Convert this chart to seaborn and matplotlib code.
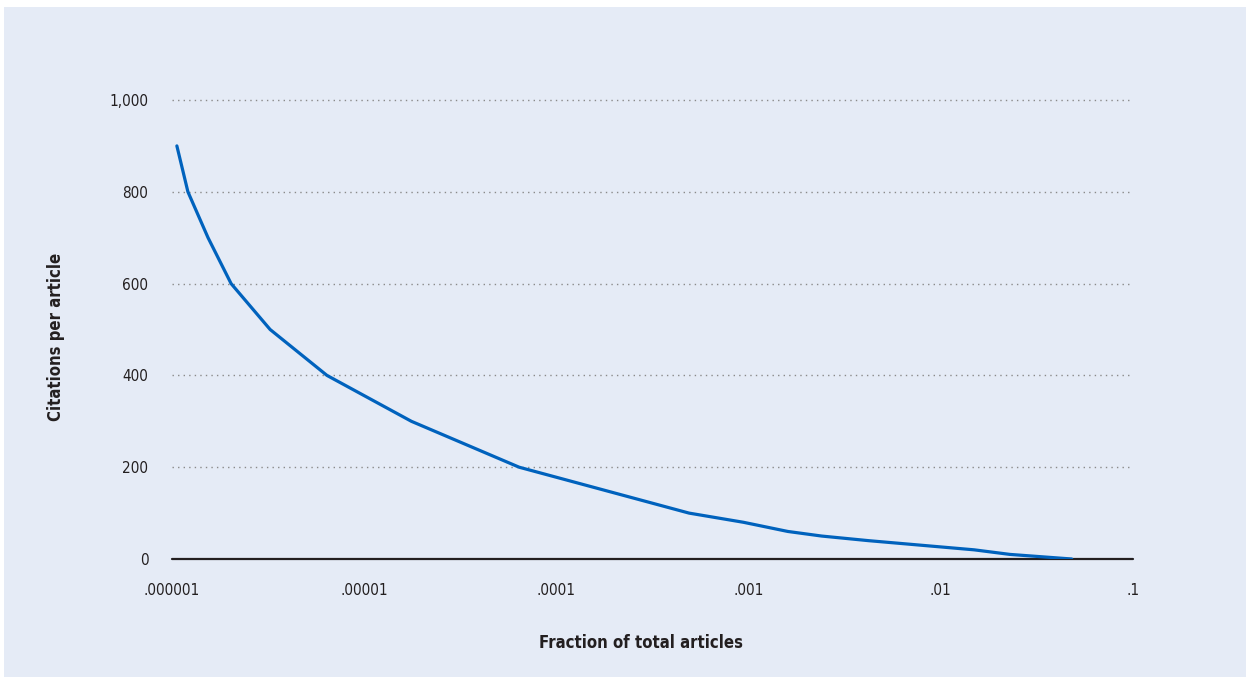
import matplotlib
matplotlib.use("Agg")
import matplotlib.pyplot as plt
import matplotlib.patches as mpatches
from matplotlib.ticker import FixedLocator, FixedFormatter, NullLocator
import seaborn as sns
import pandas as pd

# values (log x axis)
fraction = [1.06e-6, 1.21e-6, 1.54e-6, 2.03e-6, 3.24e-6, 6.4e-6, 1.76e-5, 6.4e-5,
            4.9e-4, 9.4e-4, 1.6e-3, 2.4e-3, 4.2e-3, 1.49e-2, 2.29e-2, 4.8e-2]
citations = [900, 800, 700, 600, 500, 400, 300, 200,
             100, 80, 60, 50, 40, 20, 10, 0]
x_ticks = [1e-6, 1e-5, 1e-4, 1e-3, 1e-2, 1e-1]
x_tick_labels = [".000001", ".00001", ".0001", ".001", ".01", ".1"]
y_ticks = [0, 200, 400, 600, 800, 1000]
y_tick_labels = ["0", "200", "400", "600", "800", "1,000"]

df = pd.DataFrame({"Fraction of total articles": fraction, "Citations per article": citations})

bg = "#E5EBF6"
sns.set_style("white")
plt.rcParams["font.family"] = ["DejaVu Sans"]
plt.rcParams["font.stretch"] = "condensed"

fig = plt.figure(figsize=(12.49, 6.77), dpi=100)
fig.patch.set_facecolor("white")
# light blue panel behind the chart
panel = mpatches.Rectangle((4 / 1249, 0), 1242 / 1249, 670 / 677,
                           transform=fig.transFigure, facecolor=bg,
                           edgecolor="none", zorder=-10)
fig.add_artist(panel)

ax = fig.add_axes([172 / 1249, 1 - 559 / 677, (1133 - 172) / 1249, (559 - 100) / 677])
ax.set_zorder(1)
ax.set_facecolor(bg)

sns.lineplot(data=df, x="Fraction of total articles", y="Citations per article",
             ax=ax, color="#0062BD", linewidth=2.3, zorder=3)

ax.set_xscale("log")
ax.set_xlim(1e-6, 1e-1)
ax.set_ylim(0, 1000)

ax.xaxis.set_major_locator(FixedLocator(x_ticks))
ax.xaxis.set_major_formatter(FixedFormatter(x_tick_labels))
ax.xaxis.set_minor_locator(NullLocator())
ax.yaxis.set_major_locator(FixedLocator(y_ticks))
ax.yaxis.set_major_formatter(FixedFormatter(y_tick_labels))

for v in y_ticks[1:]:
    ax.axhline(v, color="#8A8A8A", linestyle=(0, (1, 3)), linewidth=1.0, zorder=1, clip_on=False)
ax.axhline(0, color="#231F20", linewidth=1.6, zorder=2, clip_on=False)

for s in ax.spines.values():
    s.set_visible(False)

ax.tick_params(axis="x", length=0, pad=17, labelsize=11, labelcolor="#231F20")
ax.tick_params(axis="y", length=0, pad=17, labelsize=11, labelcolor="#231F20")

ax.set_xlabel("Fraction of total articles", fontsize=12, fontweight="bold",
              color="#231F20")
ax.xaxis.set_label_coords((641 - 172) / (1133 - 172), -(634 - 559) / (559 - 100))
ax.set_ylabel("Citations per article", fontsize=12, fontweight="bold",
              color="#231F20")
ax.yaxis.set_label_coords(-(172 - 65) / (1133 - 172), (559 - 337) / (559 - 100))

fig.savefig("out.png", dpi=100, facecolor=fig.get_facecolor())
